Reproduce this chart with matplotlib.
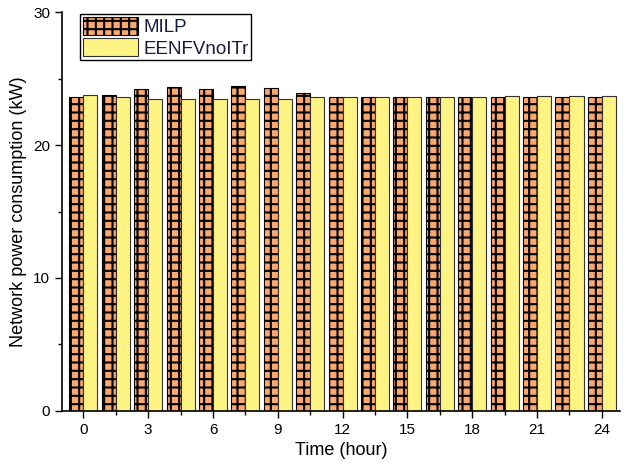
import numpy as np
import matplotlib.pyplot as plt

plt.rcParams['font.family'] = ['Liberation Sans', 'DejaVu Sans']
plt.rcParams['hatch.linewidth'] = 1.5

# Data
hours = [0, 1.5, 3, 4.5, 6, 7.5, 9, 10.5, 12, 13.5, 15, 16.5, 18, 19.5, 21, 22.5, 24]
milp = [23.6, 23.8, 24.2, 24.35, 24.2, 24.45, 24.3, 23.9, 23.6, 23.6,
        23.6, 23.6, 23.6, 23.65, 23.65, 23.65, 23.6]
eenfv = [23.75, 23.6, 23.5, 23.5, 23.45, 23.5, 23.45, 23.6, 23.6, 23.6,
         23.6, 23.6, 23.6, 23.7, 23.7, 23.7, 23.7]

x = np.array(hours)
w = 0.65

fig = plt.figure(figsize=(6.24, 4.7), dpi=100)
ax = fig.add_axes([0.099, 0.126, 0.895, 0.848])

ax.bar(x - w / 2, milp, width=w, color="#F9A870", edgecolor="black",
       hatch="++", linewidth=0.8, label="MILP")
ax.bar(x + w / 2, eenfv, width=w, color="#FFF383", edgecolor="#333333",
       linewidth=0.8, label="EENFVnoITr")

ax.set_xlim(-1.0, 24.85)
ax.set_ylim(0, 30)
ax.set_xticks(np.arange(0, 25, 3))
ax.set_xticks(np.arange(1.5, 25, 3), minor=True)
ax.set_yticks([0, 10, 20, 30])
ax.set_yticks([5, 15, 25], minor=True)
ax.tick_params(axis="both", which="major", direction="out", length=5,
               width=1, labelsize=11)
ax.tick_params(axis="both", which="minor", direction="out", length=3, width=1)

for s in ["top", "right"]:
    ax.spines[s].set_visible(False)
for s in ["left", "bottom"]:
    ax.spines[s].set_linewidth(1.2)

ax.set_xlabel("Time (hour)", fontsize=13)
ax.set_ylabel("Network power consumption (kW)", fontsize=13)

leg = ax.legend(loc="upper left", bbox_to_anchor=(0.03, 1.0), fontsize=13.5,
                fancybox=False, edgecolor="black", framealpha=1,
                handlelength=2.9, handleheight=1.1, borderpad=0.15,
                labelspacing=0.1, handletextpad=0.3, borderaxespad=0.1)
leg.get_frame().set_linewidth(1.0)
for t in leg.get_texts():
    t.set_color("#1a1a40")

fig.savefig("out.png", dpi=100)
